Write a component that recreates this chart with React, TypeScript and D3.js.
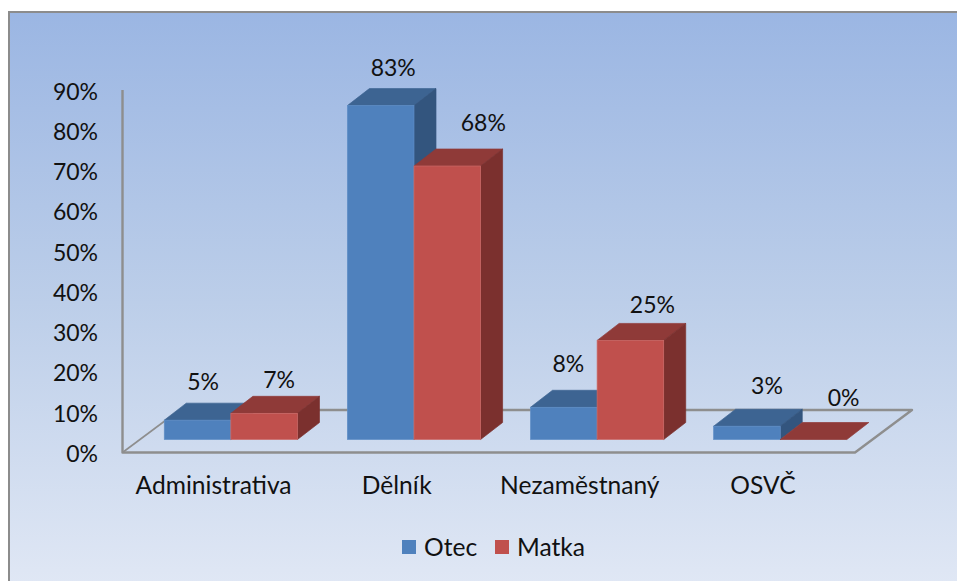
import React from "react";
import * as d3 from "d3";

const categories = ["Administrativa", "Dělník", "Nezaměstnaný", "OSVČ"];
const otec = [4.8, 82.9, 8.0, 3.3];
const matka = [6.5, 67.9, 24.6, 0];
const ticks = [0, 10, 20, 30, 40, 50, 60, 70, 80, 90];
const seriesNames = ["Otec", "Matka"];

// layout only: hand-placed data label offsets from the bar's top-front centre
const labelNudge = [
  [[5.5, -38.5], [15, -33.5]],
  [[12.5, -38], [36, -43]],
  [[4.5, -43.5], [22, -35]],
  [[20, -40.5], [30, -42]],
];

const W = 957, H = 581;
const FONT = "Lato, Carlito, sans-serif";
const floorLeft = 122.5, floorRight = 855, floorY = 452.5;
const floorDx = 57, floorDy = -42.5;
const barDx = 22, barDy = -17;
const barBase = 439.5;

const x = d3.scaleBand<string>().domain(categories).range([floorLeft, floorRight]).paddingInner(0).paddingOuter(0);
const y = d3.scaleLinear().domain([0, 90]).range([floorY, 90]);
const h = d3.scaleLinear().domain([0, 90]).range([0, floorY - 90]);
const fmt = (v: number) => d3.format(".0f")(v) + "%";

const palette = [
  { front: "#4f81bd", top: "#3d6492", side: "#33557e", edge: "#5f8ec6" },
  { front: "#c0504d", top: "#8f3a38", side: "#7b302e", edge: "#cc6a67" },
];

const line = d3.line();
const poly = (pts: [number, number][]) => line(pts) + "Z";

function Bar({ x0, w, v, c }: { x0: number; w: number; v: number; c: (typeof palette)[0] }) {
  const top = barBase - h(v);
  const x1 = x0 + w;
  return (
    <g strokeWidth={0.7}>
      <path d={poly([[x0, top], [x1, top], [x1 + barDx, top + barDy], [x0 + barDx, top + barDy]])} fill={c.top} stroke={c.top} />
      {v > 0 && (
        <>
          <path d={poly([[x1, top], [x1 + barDx, top + barDy], [x1 + barDx, barBase + barDy], [x1, barBase]])} fill={c.side} stroke={c.side} />
          <rect x={x0} y={top} width={w} height={barBase - top} fill={c.front} stroke={c.edge} />
        </>
      )}
    </g>
  );
}

export default function App() {
  const barW = 66.6;
  const shift = (floorDx - barDx) / 2 - 0.7;
  const gx = (cat: string) => (x(cat) as number) + (x.bandwidth() - 2 * barW) / 2 + shift;
  const backStart = gx(categories[0]) + 2 * barW;
  return (
    <svg width={W} height={H} viewBox={`0 0 ${W} ${H}`} style={{ position: "absolute", left: 0, top: 0, display: "block" }}>
      <defs>
        <linearGradient id="bg" x1="0" y1="0" x2="0" y2="1">
          <stop offset="0" stopColor="#9bb6e3" />
          <stop offset="0.5" stopColor="#bccee9" />
          <stop offset="1" stopColor="#e1e8f5" />
        </linearGradient>
      </defs>
      <rect width={W} height={H} fill="#fff" />
      <rect x={9} y={12} width={W} height={H} fill="url(#bg)" stroke="#8c8c8c" strokeWidth={2} />

      <g fill="none" stroke="#8e8e8e" strokeWidth={2.4} strokeLinejoin="round">
        <path d={line([[backStart, floorY + floorDy], [floorRight + floorDx, floorY + floorDy], [floorRight, floorY], [floorLeft, floorY], [floorLeft, 90]]) as string} />
        <path strokeWidth={1.6} d={line([[floorLeft, floorY], [floorLeft + floorDx, floorY + floorDy]]) as string} />
      </g>

      {categories.map((cat, i) => (
        <g key={cat}>
          <Bar x0={gx(cat)} w={barW} v={otec[i]} c={palette[0]} />
          <Bar x0={gx(cat) + barW} w={barW} v={matka[i]} c={palette[1]} />
        </g>
      ))}

      <g fontFamily={FONT} fontSize={23} fill="#111">
        {ticks.map((t) => (
          <text key={t} x={98} y={y(t) + 1.5} dy="0.35em" textAnchor="end">{t}%</text>
        ))}
        {categories.map((cat) => (
          <text key={cat} x={(x(cat) as number) + x.bandwidth() / 2 - 0.5} y={485.5} dy="0.35em" textAnchor="middle" fontSize={24.6}>{cat}</text>
        ))}
        {categories.map((cat, i) =>
          [otec[i], matka[i]].map((v, s) => (
            <text
              key={cat + s}
              x={gx(cat) + barW * s + barW / 2 + labelNudge[i][s][0]}
              y={barBase - h(v) + labelNudge[i][s][1]}
              dy="0.35em"
              textAnchor="middle"
            >
              {fmt(v)}
            </text>
          ))
        )}
        {seriesNames.map((n, s) => (
          <g key={n} transform={`translate(${402 + s * 93},540)`}>
            <rect width={14} height={14} fill={palette[s].front} />
            <text x={22} y={7.5} dy="0.35em" fontSize={24.6}>{n}</text>
          </g>
        ))}
      </g>
    </svg>
  );
}
